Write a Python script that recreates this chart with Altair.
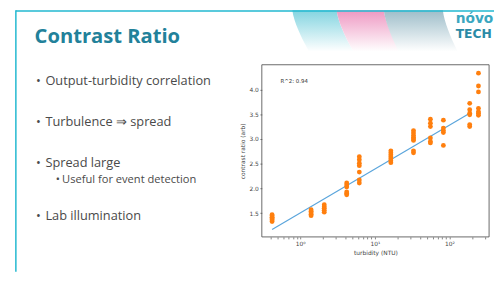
import altair as alt
import pandas as pd

# ---------------- content ----------------
title_text = "Contrast Ratio"
bullets = ["Output-turbidity correlation", "Turbulence \u21d2 spread", "Spread large",
           "Useful for event detection", "Lab illumination"]
bullet_levels = [0, 0, 0, 1, 0]
logo_lines = ["n\u00f3vo", "TECH"]

turbidity_levels = [0.42, 1.4, 2.1, 4.2, 6.2, 16.4, 33, 55.6, 83, 187, 245]
ratio_c1 = [1.33, 1.36, 1.38, 1.40, 1.42, 1.45, 1.47]
ratio_c2 = [1.45, 1.48, 1.51, 1.54, 1.57]
ratio_c3 = [1.52, 1.56, 1.60, 1.63, 1.67]
ratio_c4 = [1.87, 1.90, 1.93, 2.03, 2.07, 2.11]
ratio_c5 = [2.11, 2.17, 2.33, 2.46, 2.51, 2.58, 2.64]
ratio_c6 = [2.52, 2.56, 2.60, 2.64, 2.68, 2.72, 2.76]
ratio_c7 = [2.72, 2.76, 2.97, 3.00, 3.03, 3.07, 3.12, 3.17]
ratio_c8 = [2.92, 2.95, 3.02, 3.25, 3.32, 3.40]
ratio_c9 = [2.87, 3.13, 3.17, 3.22, 3.38]
ratio_c10 = [3.25, 3.29, 3.49, 3.52, 3.59, 3.72]
ratio_c11 = [3.48, 3.52, 3.55, 3.62, 3.95, 4.07, 4.33]
ratio_clusters = [ratio_c1, ratio_c2, ratio_c3, ratio_c4, ratio_c5, ratio_c6,
                  ratio_c7, ratio_c8, ratio_c9, ratio_c10, ratio_c11]

fit_turbidity = [0.42, 187]
fit_ratio = [1.17, 3.52]
r2_label = "R^2: 0.94"

x_title = "turbidity (NTU)"
y_title = "contrast ratio (arb)"
y_ticks = [1.5, 2.0, 2.5, 3.0, 3.5, 4.0]
x_limits = [0.306, 340]
y_limits = [1.02, 4.5]

# ---------------- layout ----------------
W, H = 494, 266
AX_L, AX_R = 258, 489
AX_T, AX_B = 55.5, 230.5
TEAL = "#22819a"
CYAN = "#22b8d0"
GREY_TXT = "#4a4a4a"
SLIDE_FONT = "Open Sans"

rows = []
for tx, ys in zip(turbidity_levels, ratio_clusters):
    for y in ys:
        rows.append({"turbidity": tx, "ratio": y})
pts = pd.DataFrame(rows)
fit = pd.DataFrame({"turbidity": fit_turbidity, "ratio": fit_ratio})
frame = pd.DataFrame({"x": [x_limits[0]], "x2": [x_limits[1]],
                      "y": [y_limits[0]], "y2": [y_limits[1]]})

x_tick_vals = []
for dec in [0.1, 1, 10, 100]:
    for m in range(1, 10):
        v = round(m * dec, 6)
        if x_limits[0] <= v <= x_limits[1]:
            x_tick_vals.append(v)

xs = alt.Scale(type="log", domain=x_limits, range=[AX_L, AX_R], nice=False)
ys_ = alt.Scale(domain=y_limits, range=[AX_B, AX_T], nice=False, zero=False)

x_axis = alt.Axis(values=x_tick_vals, orient="bottom", offset=-(H - AX_B),
                  labelExpr="datum.value == 1 ? '10\u2070' : datum.value == 10 ? '10\u00b9' : datum.value == 100 ? '10\u00b2' : ''",
                  domain=False, grid=False, tickSize=2, tickWidth=0.6, tickColor="#333",
                  labelFont="DejaVu Sans", labelFontSize=6, labelColor="#444",
                  labelPadding=1.5, labelOverlap=False, labelFlush=False,
                  title=x_title, titleFont="DejaVu Sans", titleFontSize=6,
                  titleFontWeight="normal", titleColor="#444", titlePadding=3)
y_axis = alt.Axis(values=y_ticks, orient="left", offset=-AX_L, format=".1f",
                  domain=False, grid=False, tickSize=2, tickWidth=0.6, tickColor="#333",
                  labelFont="DejaVu Sans", labelFontSize=6, labelColor="#444",
                  labelPadding=1.5, labelFlush=False,
                  title=y_title, titleFont="DejaVu Sans", titleFontSize=6,
                  titleFontWeight="normal", titleColor="#444", titlePadding=4)

box = alt.Chart(frame).mark_rect(fillOpacity=0, stroke="#444", strokeWidth=0.8).encode(
    x=alt.X("x:Q", scale=xs, axis=x_axis), x2="x2:Q",
    y=alt.Y("y:Q", scale=ys_, axis=y_axis), y2="y2:Q")
points = alt.Chart(pts).mark_circle(size=24, color="#ff7f0e", opacity=1).encode(
    x=alt.X("turbidity:Q", scale=xs), y=alt.Y("ratio:Q", scale=ys_))
line = alt.Chart(fit).mark_line(color="#5aa5dc", strokeWidth=1.2).encode(
    x=alt.X("turbidity:Q", scale=xs), y=alt.Y("ratio:Q", scale=ys_))
r2 = alt.Chart(pd.DataFrame({"t": [r2_label]})).mark_text(
    align="left", baseline="middle", font="DejaVu Sans", fontSize=5.5, color="#333").encode(
    text="t:N", x=alt.value(277), y=alt.value(72))

scatter = alt.layer(box, line, points, r2)

# ---------------- slide decorations ----------------
def band(x_top_l, x_top_r, shift, color):
    yy = [0, 5, 10, 15, 20, 25, 30, 35, 42]
    d = pd.DataFrame({"y": yy,
                      "xl": [x_top_l + shift * (v / 42) ** 1.4 for v in yy],
                      "xr": [x_top_r + shift * (v / 42) ** 1.4 for v in yy]})
    grad = alt.Gradient(gradient="linear",
                        stops=[alt.GradientStop(color=color, offset=0),
                               alt.GradientStop(color="#ffffff", offset=1)],
                        x1=0, x2=0, y1=0, y2=1)
    return alt.Chart(d).mark_area(orient="horizontal", color=grad).encode(
        y=alt.Y("y:Q", scale=None, axis=None),
        x=alt.X("xl:Q", scale=None, axis=None), x2="xr:Q")

bands = [band(289, 334, 17, "#82d4e0"), band(334, 382, 17, "#ee98c2"),
         band(382, 442, 15, "#9dbdc9")]

one = pd.DataFrame({"a": [0]})
top_line = alt.Chart(one).mark_rule(color=CYAN, strokeWidth=1.5).encode(
    x=alt.value(8), x2=alt.value(W), y=alt.value(0.75))
left_line = alt.Chart(one).mark_rule(color=CYAN, strokeWidth=1.5).encode(
    x=alt.value(8), y=alt.value(0), y2=alt.value(H))

title = alt.Chart(pd.DataFrame({"t": [title_text]})).mark_text(
    align="left", baseline="alphabetic", font=SLIDE_FONT, fontSize=20.5, fontWeight="bold",
    color=TEAL).encode(text="t:N", x=alt.value(27), y=alt.value(33))

bullet_y = [72, 114, 155, 173, 209]
texts = []
for txt, lvl, yv in zip(bullets, bullet_levels, bullet_y):
    dot_x = 28.5 if lvl == 0 else 48.5
    txt_x = 38 if lvl == 0 else 55
    fs = 13 if lvl == 0 else 11.3
    df = pd.DataFrame({"t": [txt], "b": ["\u2022"]})
    texts.append(alt.Chart(df).mark_text(align="left", baseline="middle", font=SLIDE_FONT,
                                         fontSize=fs, color=GREY_TXT).encode(
        text="b:N", x=alt.value(dot_x), y=alt.value(yv)))
    texts.append(alt.Chart(df).mark_text(align="left", baseline="middle", font=SLIDE_FONT,
                                         fontSize=fs, color=GREY_TXT).encode(
        text="t:N", x=alt.value(txt_x), y=alt.value(yv)))

logo = [
    alt.Chart(pd.DataFrame({"t": [logo_lines[0]]})).mark_text(
        align="left", baseline="middle", font="DejaVu Sans", fontSize=14, fontWeight="bold",
        color="#3aa7c0").encode(text="t:N", x=alt.value(455), y=alt.value(9.5)),
    alt.Chart(pd.DataFrame({"t": [logo_lines[1]]})).mark_text(
        align="left", baseline="middle", font="DejaVu Sans", fontSize=12.5, fontWeight="bold",
        color="#2a8aa6").encode(text="t:N", x=alt.value(455), y=alt.value(24)),
]

slide = alt.layer(*bands, top_line, left_line, title, *texts, *logo)

chart = alt.layer(slide, scatter).properties(
    width=W, height=H, padding=0, background="white",
    autosize=alt.AutoSizeParams(type="none")
).configure_view(stroke=None)

chart.save("out.html", embed_options={"renderer": "svg", "actions": False})
